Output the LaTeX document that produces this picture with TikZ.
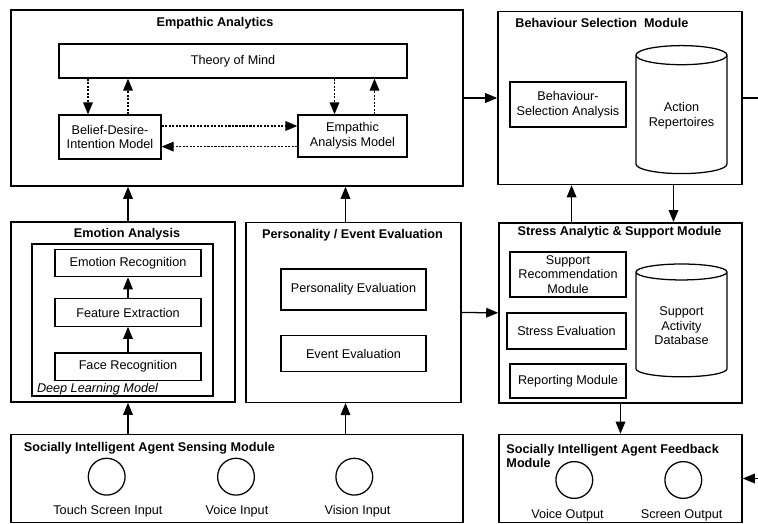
\documentclass[tikz,border=0pt]{standalone}
\usepackage{fontspec}
\setmainfont{Liberation Sans}
\usetikzlibrary{arrows.meta, shapes.geometric, positioning}

\begin{document}
\begin{tikzpicture}[every node/.style={draw, shape=rectangle, line width=0.9pt, inner sep=1pt, align=center, font=\fontsize{9}{10.5}\selectfont},
  module/.style={line width=1.1pt},
  db/.style={shape=cylinder, shape border rotate=90, aspect=0.28, anchor=shape center, minimum width=2.275cm, minimum height=3.2cm},
  io/.style={shape=circle, minimum size=0.92cm, inner sep=0pt},
  dots/.style={dash pattern=on 1.5pt off 1pt},
  line width=0.9pt, >={Triangle[length=0.3cm, width=0.24cm]}]
\useasboundingbox (0,0) rectangle (18.95,-13.1);

% Define modules
\path (5.925,-2.45) node[module, minimum width=11.3cm, minimum height=4.4cm] (EA) {}
(15.5,-2.45) node[module, minimum width=6.1cm, minimum height=4.325cm] (BSM) {}
(3.075,-7.8) node[module, minimum width=5.6cm, minimum height=4.5cm] (EmA) {}
(8.8375,-7.8125) node[module, minimum width=5.375cm, minimum height=4.49cm] (PEE) {}
(15.5125,-7.82) node[module, minimum width=6.075cm, minimum height=4.5cm] (SAS) {}
(5.925,-11.9625) node[module, minimum width=11.3cm, minimum height=2.2cm] (sensing) {}
(15.5125,-11.9625) node[module, minimum width=6.075cm, minimum height=2.2cm] (feedback) {}
;

% Define inner nodes
\path (EA) +(-0.1,0.925) node[minimum width=8.7cm, minimum height=0.85cm] (ToM) {Theory of Mind}
(EA) +(-3.175,-0.975) node[minimum width=2.55cm, minimum height=1.1cm] (BDI) {Belief-Desire-\\Intention Model}
(EA) +(2.8875,-0.95) node[minimum width=2.725cm, minimum height=1.05cm] (EAM) {Empathic\\Analysis Model}
(BSM) +(-1.3,-0.1625) node[minimum width=2.9cm, minimum height=1.125cm] (BSA) {Behaviour-\\Selection Analysis}
(BSM) +(1.5375,-0.29) node[db] (AR) {Action\\Repertoires}
(EmA) +(-0.0125,-0.2) node[minimum width=4.525cm, minimum height=3.8cm] (DLM) {}
(EmA) +(0.125,-0.0125) node[minimum width=3.65cm, minimum height=0.685cm] (FE) {Feature Extraction}
(FE) +(90:1.2375 cm) node[minimum width=3.65cm, minimum height=0.685cm] (ER) {Emotion Recognition}
(FE) +(-90:1.355 cm) node[minimum width=3.65cm, minimum height=0.685cm] (FR) {Face Recognition}
(PEE) +(90:0.575 cm) node[minimum width=3.625cm, minimum height=1.025cm] (PE) {Personality Evaluation}
(PEE) +(-90:1.03 cm) node[minimum width=3.625cm, minimum height=0.9cm] (EE) {Event Evaluation}
(SAS) +(-1.3125,0.9575) node[minimum width=2.9cm, minimum height=1.125cm] (SRM) {Support\\Recommendation\\Module}
(SAS) +(-1.35,-0.455) node[minimum width=2.975cm, minimum height=0.9cm] (SE) {Stress Evaluation}
(SAS) +(-1.3125,-1.705) node[minimum width=2.9cm, minimum height=0.85cm] (RM) {Reporting Module}
(SAS) +(1.525,-0.19) node[db, minimum height=2.82cm] (SAD) {Support\\Activity\\Database}
(sensing) +(-3.2575,0.045) node[io] (touch) {}
(sensing) +(-0.025,0.045) node[io] (voice) {}
(sensing) +(2.9325,0.045) node[io] (vision) {}
(feedback) +(-1.155,-0.0375) node[io] (voiceout) {}
(feedback) +(1.57,-0.0375) node[io] (screenout) {}
;

\draw[->] (FR) -- (FE);
\draw[->] (FE) -- (ER);
\draw[->, dots] ([xshift=-0.55cm]BDI.north |- ToM.south) -- ([xshift=-0.55cm]BDI.north);
\draw[->, dots] ([xshift=0.45cm]BDI.north) -- ([xshift=0.45cm]BDI.north |- ToM.south);
\draw[->, dots] ([xshift=-0.45cm]EAM.north |- ToM.south) -- ([xshift=-0.45cm]EAM.north);
\draw[->, dots] ([xshift=0.55cm]EAM.north) -- ([xshift=0.55cm]EAM.north |- ToM.south);
\draw[->, dots] ([yshift=0.275cm]BDI.east) -- ([yshift=0.275cm]BDI.east -| EAM.west);
\draw[->, dots] ([yshift=-0.24cm]BDI.east -| EAM.west) -- ([yshift=-0.24cm]BDI.east);

\draw[->] (EA.east) -- (BSM.west);
\draw[->] (EmA.north -| FE) -- (EA.south -| FE);
\draw[->] ([xshift=-0.2cm]PEE.north) -- ([xshift=-0.2cm]PEE.north |- EA.south);
\draw[->] (sensing.north -| FE) -- (EmA.south -| FE);
\draw[->] ([xshift=-0.2cm]PEE.south |- sensing.north) -- ([xshift=-0.2cm]PEE.south);
\draw[->] (PEE.east) -- (SAS.west);
\draw[->] ([xshift=0.09cm]SAS.north -| BSA) -- ([xshift=0.09cm]BSM.south -| BSA);
\draw[->] ([xshift=-0.2cm]BSM.south -| AR) -- ([xshift=-0.2cm]SAS.north -| AR);
\draw[->] (SAS.south) -- (feedback.north);
\draw[->] (BSM.east) -- ++(0.8,0) |- (feedback.east);

\path[every node/.style={draw=none, inner sep=0pt}, font=\fontsize{9}{10.5}\selectfont\bfseries]
(EA.north) +(-0.55,-0.35) node {Empathic Analytics}
(BSM.north west) +(0.44,-0.31) node[anchor=west] {Behaviour Selection\ \ Module}
(EmA.north) +(0.1,-0.33) node {Emotion Analysis}
(PEE.north) +(-0.025,-0.33) node {Personality / Event Evaluation}
(SAS.north west) +(0.47,-0.26) node[anchor=west] {Stress Analytic \& Support Module}
(sensing.north west) +(0.325,-0.36) node[anchor=west] {Socially Intelligent Agent Sensing Module}
(feedback.north west) +(0.19,-0.555) node[anchor=west, align=left] {Socially Intelligent Agent Feedback\\Module}
;

\path[every node/.style={draw=none, inner sep=0pt}, font=\fontsize{9}{10.5}\selectfont]
(DLM.south west) +(0.125,0.175) node[anchor=west, font=\fontsize{9}{10.5}\selectfont\itshape] {Deep Learning Model}
(touch) +(0.03,-0.8725) node {Touch Screen Input}
(voice) +(0.025,-0.8725) node {Voice Input}
(vision) +(0.08,-0.8725) node {Vision Input}
(voiceout) +(-0.17,-0.875) node {Voice Output}
(screenout) +(-0.04,-0.875) node {Screen Output}
;

\end{tikzpicture}
\end{document}
